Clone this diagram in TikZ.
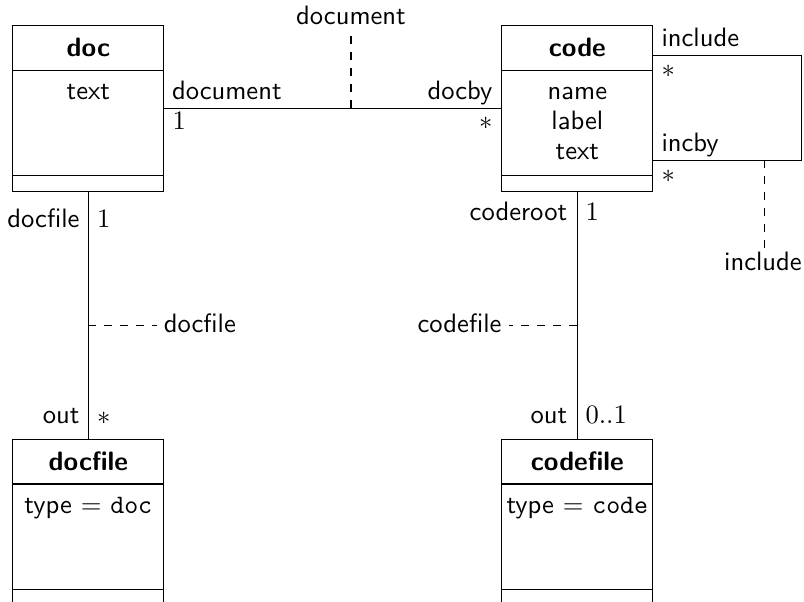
\documentclass[tikz,border=0pt]{standalone}
\usetikzlibrary{calc}
\begin{document}
\begin{tikzpicture}[x=0.376pt,y=-0.376pt,font=\sffamily,
  cls/.style={draw, minimum width=56.78pt, minimum height=62.2pt, anchor=north west, inner sep=0pt},
  ttl/.style={font=\sffamily\bfseries, inner sep=0pt},
  lbl/.style={inner sep=0pt},
  assoc/.style={draw},
  noteline/.style={draw, dashed}]
\useasboundingbox (0,0) rectangle (804,602);

% class boxes
\node[cls] (doc) at (12.3,25.3) {};
\node[cls] (code) at (501.3,25.3) {};
\node[cls] (docfile) at (12.3,439) {};
\node[cls] (codefile) at (501.3,439) {};

% titles
\node[ttl] (docT) at ($(doc.north)+(0,22.5)$) {doc};
\node[ttl] (codeT) at ($(code.north)+(0,22.5)$) {code};
\node[ttl] (docfileT) at ($(docfile.north)+(0,22.5)$) {docfile};
\node[ttl] (codefileT) at ($(codefile.north)+(0,22.5)$) {codefile};

% compartment separators
\foreach \c in {doc,code,docfile,codefile}{
  \draw ($(\c.north west)+(0,45)$) -- ($(\c.north east)+(0,45)$);
  \draw ($(\c.north west)+(0,150.4)$) -- ($(\c.north east)+(0,150.4)$);
}

% attributes
\node[lbl,anchor=base] (docA) at ($(doc.north)+(0,74.7)$) {text};
\node[lbl,anchor=base] (codeA1) at ($(code.north)+(0,74.7)$) {name};
\node[lbl,anchor=base] (codeA2) at ($(code.north)+(0,104.2)$) {label};
\node[lbl,anchor=base] (codeA3) at ($(code.north)+(0,133.7)$) {text};
\node[lbl,anchor=base] (docfileA) at ($(docfile.north)+(0,74.5)$) {type $=$ \texttt{doc}};
\node[lbl,anchor=base] (codefileA) at ($(codefile.north)+(0,74.5)$) {type $=$ \texttt{code}};

% association doc -- code
\draw[assoc] (doc.east) -- (code.west);
\node[lbl,anchor=base west] (r1) at (171.5,100) {document};
\node[lbl,anchor=base west] (m1) at (172,130) {$1$};
\node[lbl,anchor=base east] (r2) at (493,100) {docby};
\node[lbl,anchor=base east] (m2) at (493,130) {$*$};
\coordinate (a1) at (351,108);
\coordinate (a1e) at (351,32);
\draw[noteline] (a1) -- (a1e);
\node[lbl,anchor=base] (a1L) at (351,25) {document};

% include self association
\draw[assoc] ($(code.north east)+(0,30)$) -- (801.7,55.3) -- (801.7,160.3) -- ($(code.north east)+(0,135)$);
\node[lbl,anchor=base west] (r3) at (661,46.7) {include};
\node[lbl,anchor=base west] (m3) at (661,78) {$*$};
\node[lbl,anchor=base west] (r4) at (661,151.7) {incby};
\node[lbl,anchor=base west] (m4) at (661,183) {$*$};
\coordinate (a2) at (764.3,160.3);
\coordinate (a2e) at (764.3,248);
\draw[noteline] (a2) -- (a2e);
\node[lbl,anchor=base] (a2L) at (763,270) {include};

% doc -- docfile
\draw[assoc] (doc.south) -- (docfile.north);
\node[lbl,anchor=base east] (r5) at (80,227.3) {docfile};
\node[lbl,anchor=base west] (m5) at (96.7,227.3) {$1$};
\node[lbl,anchor=base east] (r6) at (80,423.3) {out};
\node[lbl,anchor=base west] (m6) at (96.7,424) {$*$};
\coordinate (a3) at (87.8,325.7);
\coordinate (a3e) at (157,325.7);
\draw[noteline] (a3) -- (a3e);
\node[lbl,anchor=base west] (a3L) at (163.3,332.7) {docfile};

% code -- codefile
\draw[assoc] (code.south) -- (codefile.north);
\node[lbl,anchor=base east] (r7) at (567.7,220.7) {coderoot};
\node[lbl,anchor=base west] (m7) at (585,220.7) {$1$};
\node[lbl,anchor=base east] (r8) at (567.7,423.3) {out};
\node[lbl,anchor=base west] (m8) at (585,423.3) {$0..1$};
\coordinate (a4) at (576.8,325.7);
\coordinate (a4e) at (509,325.7);
\draw[noteline] (a4) -- (a4e);
\node[lbl,anchor=base east] (a4L) at (502,332.7) {codefile};
\end{tikzpicture}
\end{document}
